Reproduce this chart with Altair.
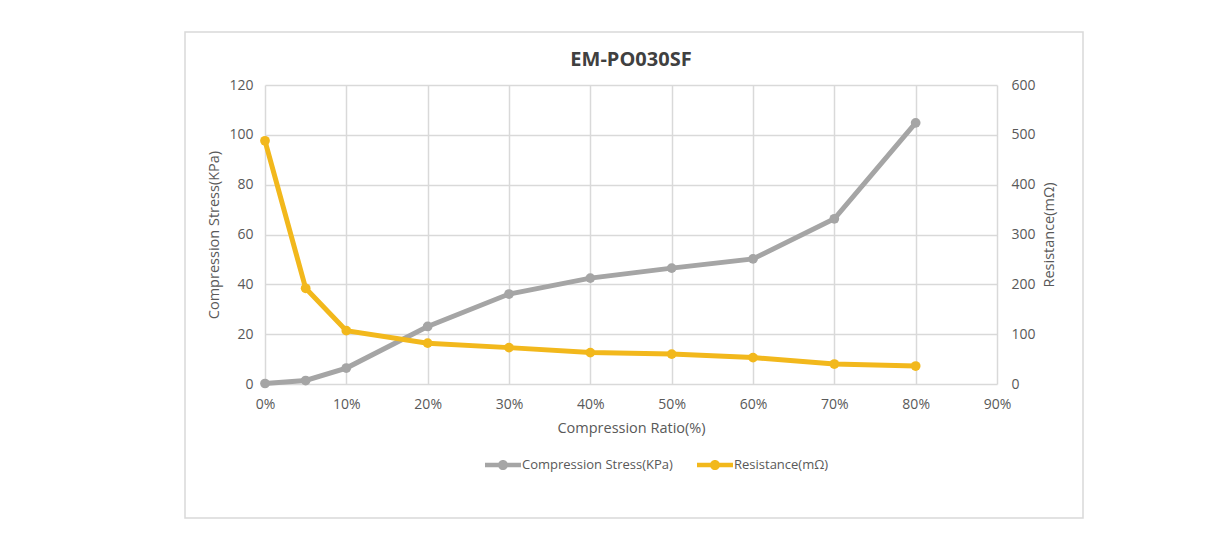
import altair as alt
import pandas as pd

ratio = [0.0, 0.05, 0.10, 0.20, 0.30, 0.40, 0.50, 0.60, 0.70, 0.80]
stress = [0.2, 1.4, 6.4, 23.1, 36.1, 42.5, 46.5, 50.2, 66.3, 104.8]
resistance = [488, 192, 107, 82, 73, 63, 60, 53, 40, 36]
series = ["Compression Stress(KPa)", "Resistance(mΩ)"]
colors = ["#a5a5a5", "#f2b81c"]

df_s = pd.DataFrame({"ratio": ratio, "value": stress, "series": series[0]})
df_r = pd.DataFrame({"ratio": ratio, "value": resistance, "series": series[1]})

FONT = "Open Sans"
TXT = "#595959"
GRID = "#d9d9d9"

x_enc = alt.X(
    "ratio:Q",
    scale=alt.Scale(domain=[0, 0.9], nice=False),
    axis=alt.Axis(
        values=[i / 10 for i in range(10)],
        format=".0%",
        title="Compression Ratio(%)",
        grid=True,
        gridColor=GRID,
        gridWidth=1.5,
        domain=False,
        ticks=False,
        labelFlush=False,
        labelPadding=13,
        titlePadding=10,
    ),
)

color_scale = alt.Scale(domain=series, range=colors)

legend_path = (
    "M-1,-0.13 L1,-0.13 L1,0.13 L-1,0.13 Z "
    "M0.28,0 A0.28,0.28 0 1,1 -0.28,0 A0.28,0.28 0 1,1 0.28,0 Z"
)

y_left = alt.Y(
    "value:Q",
    scale=alt.Scale(domain=[0, 120], nice=False),
    axis=alt.Axis(
        orient="left",
        values=list(range(0, 121, 20)),
        title="Compression Stress(KPa)",
        grid=True,
        gridColor=GRID,
        gridWidth=1.5,
        domain=False,
        ticks=False,
        labelPadding=12,
        titlePadding=7,
    ),
)
y_right = alt.Y(
    "value:Q",
    scale=alt.Scale(domain=[0, 600], nice=False),
    axis=alt.Axis(
        orient="right",
        values=list(range(0, 601, 100)),
        title="Resistance(mΩ)",
        titleAngle=270,
        titleBaseline="top",
        grid=False,
        domain=False,
        ticks=False,
        labelPadding=14,
        titlePadding=7,
    ),
)

leg = alt.Legend(
    title=None,
    orient="none",
    direction="horizontal",
    legendX=220,
    legendY=362,
    symbolType=legend_path,
    symbolSize=1296,
    symbolStrokeWidth=0,
    symbolOpacity=1,
    labelFont=FONT,
    labelFontSize=13,
    labelColor=TXT,
    labelOffset=1,
    columnPadding=24,
)

s_line = alt.Chart(df_s).mark_line(color=colors[0], strokeWidth=5).encode(x=x_enc, y=y_left)
s_pts = alt.Chart(df_s).mark_circle(size=95, opacity=1).encode(
    x=x_enc, y=y_left, color=alt.Color("series:N", scale=color_scale, legend=leg)
)
r_line = alt.Chart(df_r).mark_line(color=colors[1], strokeWidth=5).encode(x=x_enc, y=y_right)
r_pts = alt.Chart(df_r).mark_circle(size=95, opacity=1).encode(
    x=x_enc, y=y_right, color=alt.Color("series:N", scale=color_scale, legend=leg)
)

frame = alt.Chart(pd.DataFrame({"a": [0]})).mark_rect(
    fill="transparent", stroke="#d9d9d9", strokeWidth=1.5
).encode(
    x=alt.value(-80), x2=alt.value(818), y=alt.value(-53), y2=alt.value(433)
)

chart = (
    alt.layer(
        frame,
        alt.layer(s_line, s_pts),
        alt.layer(r_line, r_pts),
    )
    .resolve_scale(y="independent")
    .properties(
        width=732,
        height=299,
        title=alt.TitleParams(
            "EM-PO030SF",
            font=FONT,
            fontSize=20,
            fontWeight="bold",
            color="#404040",
            anchor="middle",
            offset=18,
            dy=57,
        ),
        autosize=alt.AutoSizeParams(type="none"),
        padding={"left": 257, "top": 77, "right": 219, "bottom": 140},
    )
    .configure_view(stroke=None)
    .configure_axis(
        labelFont=FONT,
        labelFontSize=14,
        labelColor=TXT,
        titleFont=FONT,
        titleFontSize=14.5,
        titleColor=TXT,
        titleFontWeight="normal",
    )
)

chart.save("out.html", embed_options={"renderer": "svg", "actions": False})
